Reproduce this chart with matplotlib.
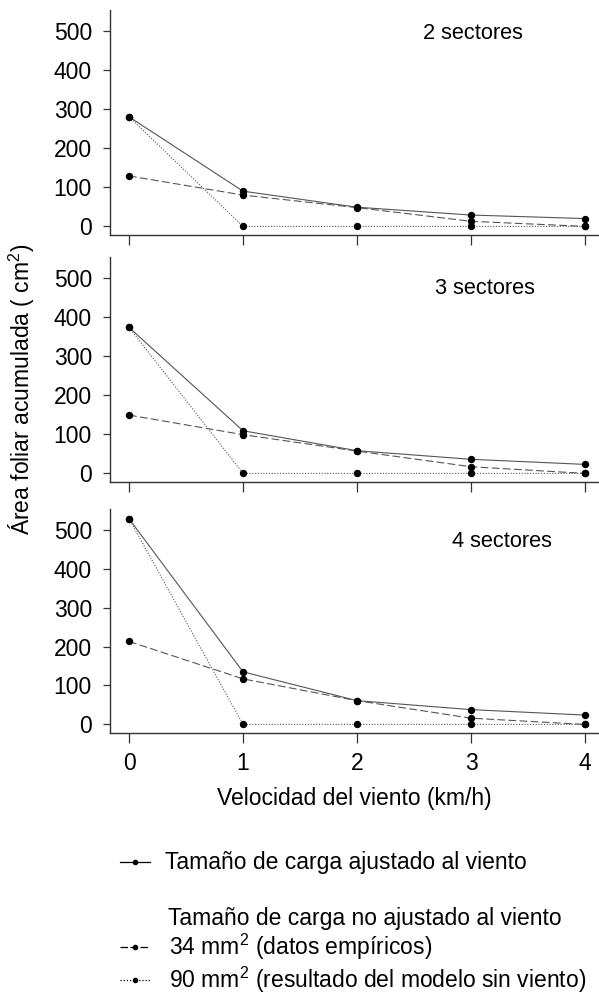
import matplotlib
matplotlib.use('Agg')
import matplotlib.pyplot as plt
from matplotlib.lines import Line2D

plt.rcParams['font.family'] = ['Liberation Sans', 'DejaVu Sans']
plt.rcParams['mathtext.fontset'] = 'custom'
plt.rcParams['mathtext.rm'] = 'Liberation Sans'

# datos
viento = [0, 1, 2, 3, 4]
paneles = ['2 sectores', '3 sectores', '4 sectores']
ajustado = [[280, 90, 49, 29, 20],
            [373, 109, 58, 36, 23],
            [528, 135, 61, 38, 24]]
empirico = [[129, 80, 48, 13, 0],
            [149, 99, 57, 17, 0],
            [213, 117, 61, 16, 0]]
modelo = [[280, 0, 0, 0, 0],
          [373, 0, 0, 0, 0],
          [528, 0, 0, 0, 0]]
yticks = [0, 100, 200, 300, 400, 500]

# posiciones de los rotulos de panel (en unidades de datos)
rotulo_pos = [(3.02, 494), (3.12, 472), (3.27, 470)]
# limites verticales de cada panel (fraccion de figura)
cajas = [(0.765, 0.990), (0.518, 0.743), (0.267, 0.491)]

fig = plt.figure(figsize=(5.99, 10), dpi=100)
gris = '#555555'
for i in range(3):
    b, t = cajas[i]
    ax = fig.add_axes([0.1836, b, 1 - 0.1836, t - b])
    ax.plot(viento, ajustado[i], color=gris, lw=0.8, ls='-')
    ax.plot(viento, empirico[i], color=gris, lw=0.8, ls=(0, (7, 3)))
    ax.plot(viento, modelo[i], color=gris, lw=0.8, ls=(0, (1, 1.5)))
    for serie in (ajustado[i], empirico[i], modelo[i]):
        ax.plot(viento, serie, 'o', color='black', ms=4.3, zorder=3)
    ax.set_xlim(-0.167, 4.123)
    ax.set_ylim(-22, 553)
    ax.set_yticks(yticks)
    ax.set_xticks(viento)
    if i < 2:
        ax.set_xticklabels([])
    ax.spines['top'].set_visible(False)
    ax.spines['right'].set_visible(False)
    for s in ('left', 'bottom'):
        ax.spines[s].set_color('#333333')
        ax.spines[s].set_linewidth(1.0)
    ax.tick_params(axis='both', labelsize=16.5, color='#333333', width=0.9)
    ax.tick_params(axis='y', length=5, pad=8)
    ax.tick_params(axis='x', length=7, pad=7)
    ax.text(rotulo_pos[i][0], rotulo_pos[i][1], paneles[i], fontsize=15.7,
            ha='center', va='center')
    if i == 2:
        ax.set_xlabel('Velocidad del viento (km/h)', fontsize=16.5, labelpad=8)

fig.text(0.036, 0.611, 'Área foliar acumulada ( cm$^2$)', rotation=90,
         fontsize=16.5, ha='center', va='center')

# leyenda (construida a mano)
def muestra(y, estilo):
    fig.add_artist(Line2D([0.200, 0.250], [y, y], color='black', lw=0.9,
                          ls=estilo, transform=fig.transFigure))
    fig.add_artist(Line2D([0.225], [y], color='black', marker='o', ms=3,
                          transform=fig.transFigure))

muestra(0.138, '-')
fig.text(0.275, 0.138, 'Tamaño de carga ajustado al viento', fontsize=16.5,
         va='center', ha='left')
fig.text(0.280, 0.082, 'Tamaño de carga no ajustado al viento', fontsize=16.5,
         va='center', ha='left')
muestra(0.053, (0, (6, 2)))
fig.text(0.282, 0.053, '34 mm$^2$ (datos empíricos)', fontsize=16.5,
         va='center', ha='left')
muestra(0.020, (0, (1, 1.5)))
fig.text(0.282, 0.020, '90 mm$^2$ (resultado del modelo sin viento)',
         fontsize=16.5, va='center', ha='left')

fig.savefig('out.png', dpi=100)
